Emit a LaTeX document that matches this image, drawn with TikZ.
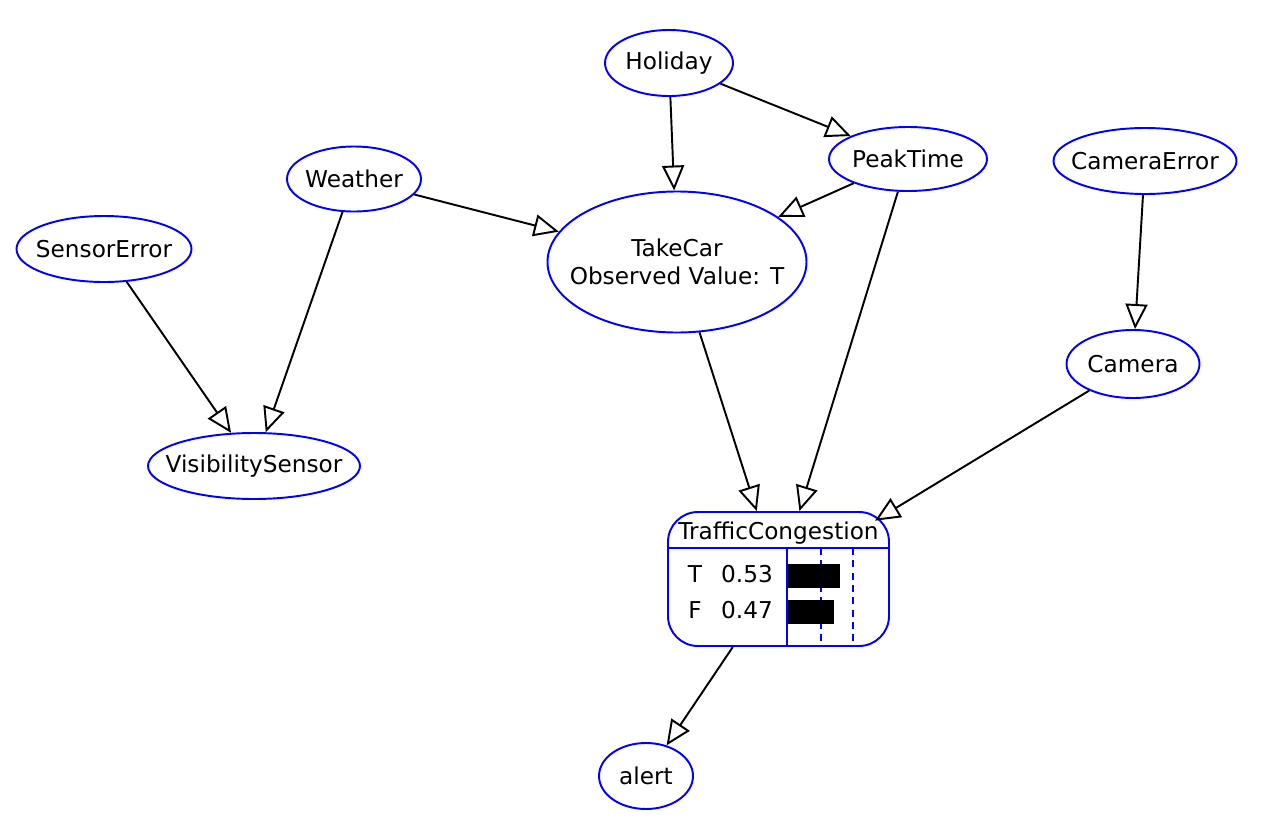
\documentclass[tikz,border=0pt]{standalone}
\usepackage{fontspec}
\setmainfont{DejaVu Sans}
\usetikzlibrary{shapes.geometric,arrows.meta}

\begin{document}
\begin{tikzpicture}[
  font=\fontsize{13.2}{16}\selectfont,
  var/.style={ellipse,draw=blue,line width=1.1pt,inner xsep=-0.45cm,inner ysep=-0.1cm,align=center},
  edge/.style={line width=1.1pt,-{Triangle[open,length=5mm,width=4.4mm,fill=white]}},
  bar/.style={fill=black}
]
\useasboundingbox (0,0) rectangle (25.36,-16.36);

\node[var,minimum width=2.56cm,minimum height=1.32cm] (holiday) at (13.38,-1.26) {Holiday};
\node[var,minimum width=3.16cm,minimum height=1.28cm] (peak) at (18.16,-3.18) {PeakTime};
\node[var,minimum width=3.66cm,minimum height=1.32cm] (camerr) at (22.9,-3.22) {CameraError};
\node[var,minimum width=2.68cm,minimum height=1.3cm] (weather) at (7.08,-3.58) {Weather};
\node[var,minimum width=3.5cm,minimum height=1.32cm] (senserr) at (2.08,-4.98) {SensorError};
\node[var,minimum width=5.18cm,minimum height=2.82cm] (takecar) at (13.54,-5.24) {TakeCar\\Observed Value: T};
\node[var,minimum width=2.66cm,minimum height=1.36cm] (camera) at (22.66,-7.28) {Camera};
\node[var,minimum width=4.24cm,minimum height=1.32cm] (vissens) at (5.08,-9.32) {VisibilitySensor};
\node[var,minimum width=1.88cm,minimum height=1.32cm] (alert) at (12.92,-15.52) {alert};

\node[draw=blue,line width=1.1pt,rounded corners=0.6cm,minimum width=4.42cm,minimum height=2.68cm] (tc) at (15.57,-11.58) {};
\draw[blue,line width=1.1pt] (13.36,-10.96) -- (17.78,-10.96);
\draw[blue,line width=1.1pt] (15.74,-10.96) -- (15.74,-12.92);
\draw[blue,line width=1pt,dash pattern=on 4pt off 3pt] (16.42,-10.96) -- (16.42,-12.92);
\draw[blue,line width=1pt,dash pattern=on 4pt off 3pt] (17.06,-10.96) -- (17.06,-12.92);
\node (tchead) at (15.57,-10.66) {TrafficCongestion};
\node (tlabel) at (13.9,-11.48) {T};
\node (tval) at (14.94,-11.48) {0.53};
\node (flabel) at (13.9,-12.2) {F};
\node (fval) at (14.94,-12.2) {0.47};
\fill[bar] (15.76,-11.28) rectangle (16.8,-11.76);
\fill[bar] (15.76,-12.0) rectangle (16.68,-12.48);

\draw[edge] (holiday) -- (takecar);
\draw[edge] (holiday) -- (peak);
\draw[edge] (peak) -- (takecar);
\draw[edge] (weather) -- (takecar);
\draw[edge] (weather) -- (vissens);
\draw[edge] (senserr) -- (vissens);
\draw[edge] (camerr) -- (camera);
\draw[edge] (takecar) -- (tc);
\draw[edge] (peak) -- (tc);
\draw[edge,shorten >=-0.35cm] (camera) -- (tc);
\draw[edge] (tc) -- (alert);
\end{tikzpicture}
\end{document}
